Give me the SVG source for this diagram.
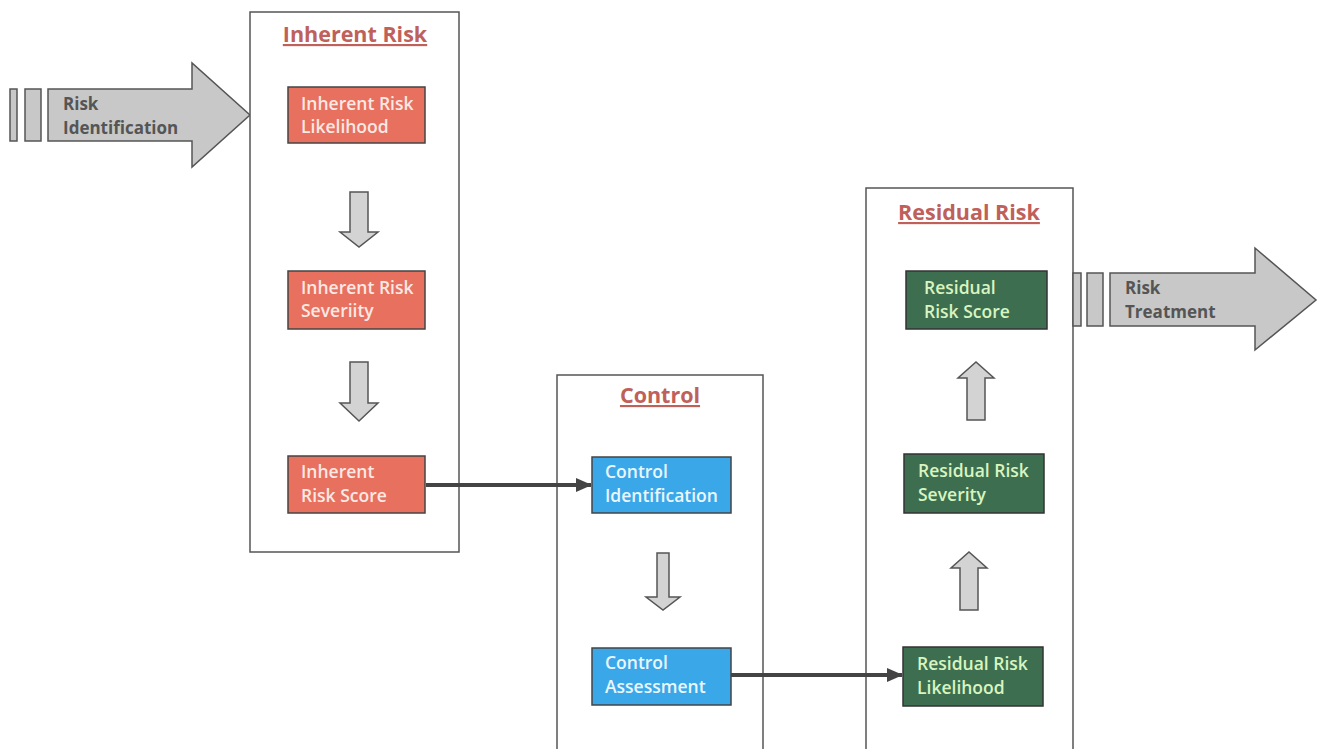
<svg xmlns="http://www.w3.org/2000/svg" width="1322" height="749" viewBox="0 0 1322 749">
<defs>
<style>
.frame{fill:#fff;stroke:#555;stroke-width:1.5}
.title{font-family:"Open Sans",sans-serif;font-weight:700;font-size:21.5px;fill:#c0605a;text-decoration:underline;text-anchor:middle}
.red{fill:#e8705f;stroke:#444;stroke-width:1.5}
.blue{fill:#3aa8e8;stroke:#444;stroke-width:1.5}
.green{fill:#3e6e50;stroke:#333;stroke-width:1.5}
.nt{font-family:"Open Sans",sans-serif;font-size:17.5px;font-weight:600}
.wt{fill:#fbe9e4}
.bt{fill:#eaf6ff}
.gt{fill:#d8f5c0}
.ga{fill:#d3d3d3;stroke:#555;stroke-width:1.5}
.big{fill:#c8c8c8;stroke:#555;stroke-width:1.5}
.bt2{font-family:"Open Sans",sans-serif;font-size:17px;font-weight:700;fill:#555}
.conn{stroke:#444;stroke-width:4;fill:none}
</style>
<marker id="ah" markerWidth="16" markerHeight="14" refX="15" refY="7" orient="auto" markerUnits="userSpaceOnUse">
<path d="M0,0 L16,7 L0,14 z" fill="#444"/>
</marker>
</defs>
<rect width="1322" height="749" fill="#fff"/>

<g id="risk-identification">
<rect class="big" x="10" y="89" width="7" height="52"/>
<rect class="big" x="25" y="89" width="16" height="52"/>
<path class="big" d="M48,89 L192,89 L192,63 L250,115 L192,167 L192,141 L48,141 z"/>
<text class="bt2" x="63" y="110">Risk</text>
<text class="bt2" x="63" y="134">Identification</text>
</g>

<g id="inherent-risk">
<rect class="frame" x="250" y="12" width="209" height="540"/>
<text class="title" x="355" y="42">Inherent Risk</text>
</g>

<g id="control">
<rect class="frame" x="557" y="375" width="206" height="380"/>
<text class="title" x="660" y="403">Control</text>
</g>

<g id="residual-risk">
<rect class="frame" x="866" y="188" width="207" height="570"/>
<text class="title" x="969" y="220">Residual Risk</text>
</g>

<g id="inherent-likelihood">
<rect class="red" x="288" y="87" width="137" height="56"/>
<text class="nt wt" x="301" y="110">Inherent Risk</text>
<text class="nt wt" x="301" y="133">Likelihood</text>
</g>
<g id="inherent-severity">
<rect class="red" x="288" y="271" width="137" height="58"/>
<text class="nt wt" x="301" y="294">Inherent Risk</text>
<text class="nt wt" x="301" y="317">Severiity</text>
</g>
<g id="inherent-score">
<rect class="red" x="288" y="456" width="137" height="57"/>
<text class="nt wt" x="301" y="478">Inherent</text>
<text class="nt wt" x="301" y="502">Risk Score</text>
</g>

<g id="control-identification">
<rect class="blue" x="592" y="457" width="139" height="56"/>
<text class="nt bt" x="605" y="478">Control</text>
<text class="nt bt" x="605" y="502">Identification</text>
</g>
<g id="control-assessment">
<rect class="blue" x="592" y="648" width="139" height="57"/>
<text class="nt bt" x="605" y="669">Control</text>
<text class="nt bt" x="605" y="693">Assessment</text>
</g>

<g id="residual-score">
<rect class="green" x="906" y="271" width="141" height="58"/>
<text class="nt gt" x="924" y="294">Residual</text>
<text class="nt gt" x="924" y="318">Risk Score</text>
</g>
<g id="residual-severity">
<rect class="green" x="904" y="454" width="140" height="59"/>
<text class="nt gt" x="918" y="477">Residual Risk</text>
<text class="nt gt" x="918" y="501">Severity</text>
</g>
<g id="residual-likelihood">
<rect class="green" x="903" y="647" width="140" height="59"/>
<text class="nt gt" x="917" y="670">Residual Risk</text>
<text class="nt gt" x="917" y="694">Likelihood</text>
</g>

<g id="risk-treatment">
<rect class="big" x="1073" y="273" width="8" height="53"/>
<rect class="big" x="1087" y="273" width="16" height="53"/>
<path class="big" d="M1110,273 L1255,273 L1255,248 L1316,300 L1255,350 L1255,326 L1110,326 z"/>
<text class="bt2" x="1125" y="294">Risk</text>
<text class="bt2" x="1125" y="318">Treatment</text>
</g>

<g id="connectors">
<path class="ga" d="M350,192 L368,192 L368,232 L378,232 L359,247 L340,232 L350,232 z"/>
<path class="ga" d="M350,362 L368,362 L368,403 L378,403 L359,421 L340,403 L350,403 z"/>
<path class="ga" d="M657,553 L669,553 L669,597 L680,597 L663,610 L646,597 L657,597 z"/>
<path class="ga" d="M960,610 L978,610 L978,568 L987,568 L969,552 L951,568 L960,568 z"/>
<path class="ga" d="M967,420 L985,420 L985,378 L994,378 L976,362 L958,378 L967,378 z"/>
<path class="conn" d="M426,485 L591,485" marker-end="url(#ah)"/>
<path class="conn" d="M731,675 L902,675" marker-end="url(#ah)"/>
</g>
</svg>
